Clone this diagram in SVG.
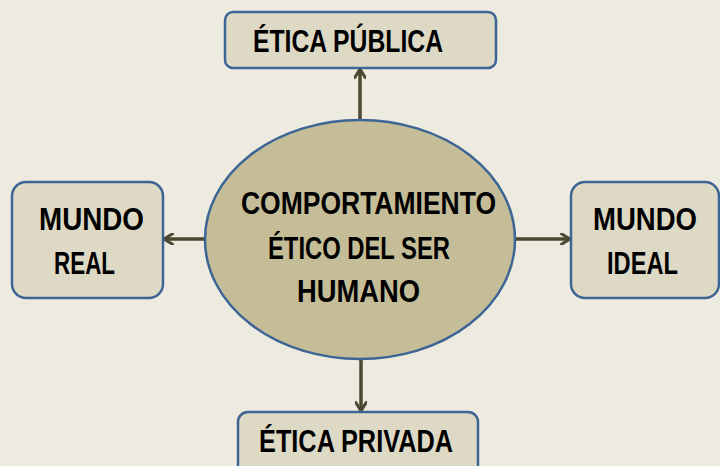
<svg xmlns="http://www.w3.org/2000/svg" width="720" height="466" viewBox="0 0 720 466">
<style>
.box{fill:#DDD9C4;stroke:#3C6595;stroke-width:2.5}
.ell{fill:#C4BD97;stroke:#3C6595;stroke-width:2.5}
.t{font-family:"Liberation Sans",Arial,sans-serif;font-weight:bold;font-size:31px;fill:#000}
.c{stroke:#4C4731;stroke-width:3.5;fill:none}
</style>
<defs>
<marker id="ah" viewBox="0 0 12 12" refX="10.5" refY="6" markerWidth="12" markerHeight="12" markerUnits="userSpaceOnUse" orient="auto">
<path d="M2,0.8 L10.5,6 L2,11.2" fill="none" stroke="#4C4731" stroke-width="3" stroke-linecap="round" stroke-linejoin="round"/>
</marker>
</defs>
<rect width="720" height="466" fill="#EDEBE0"/>
<g id="connectors">
<line class="c" x1="360" y1="120" x2="360" y2="69" marker-end="url(#ah)"/>
<line class="c" x1="205" y1="239" x2="164" y2="239" marker-end="url(#ah)"/>
<line class="c" x1="515" y1="239" x2="570" y2="239" marker-end="url(#ah)"/>
<line class="c" x1="361" y1="359" x2="361" y2="411" marker-end="url(#ah)"/>
</g>
<g id="etica-publica">
<rect class="box" x="225" y="12" width="271" height="56" rx="8"/>
<text class="t" x="253" y="52" textLength="190" lengthAdjust="spacingAndGlyphs">ÉTICA PÚBLICA</text>
</g>
<g id="mundo-real">
<rect class="box" x="12" y="182" width="151" height="116" rx="14"/>
<text class="t" x="39" y="230" textLength="105" lengthAdjust="spacingAndGlyphs">MUNDO</text>
<text class="t" x="54" y="274" textLength="61" lengthAdjust="spacingAndGlyphs">REAL</text>
</g>
<g id="mundo-ideal">
<rect class="box" x="571" y="182" width="148" height="116" rx="14"/>
<text class="t" x="593" y="230" textLength="104" lengthAdjust="spacingAndGlyphs">MUNDO</text>
<text class="t" x="607" y="274" textLength="71" lengthAdjust="spacingAndGlyphs">IDEAL</text>
</g>
<g id="etica-privada">
<rect class="box" x="238" y="412" width="240" height="70" rx="10"/>
<text class="t" x="259" y="452" textLength="194" lengthAdjust="spacingAndGlyphs">ÉTICA PRIVADA</text>
</g>
<g id="comportamiento">
<ellipse class="ell" cx="360" cy="239.5" rx="155" ry="119.5"/>
<text class="t" x="241" y="214" textLength="255" lengthAdjust="spacingAndGlyphs">COMPORTAMIENTO</text>
<text class="t" x="268" y="259" textLength="182" lengthAdjust="spacingAndGlyphs">ÉTICO DEL SER</text>
<text class="t" x="297" y="302" textLength="123" lengthAdjust="spacingAndGlyphs">HUMANO</text>
</g>
</svg>
